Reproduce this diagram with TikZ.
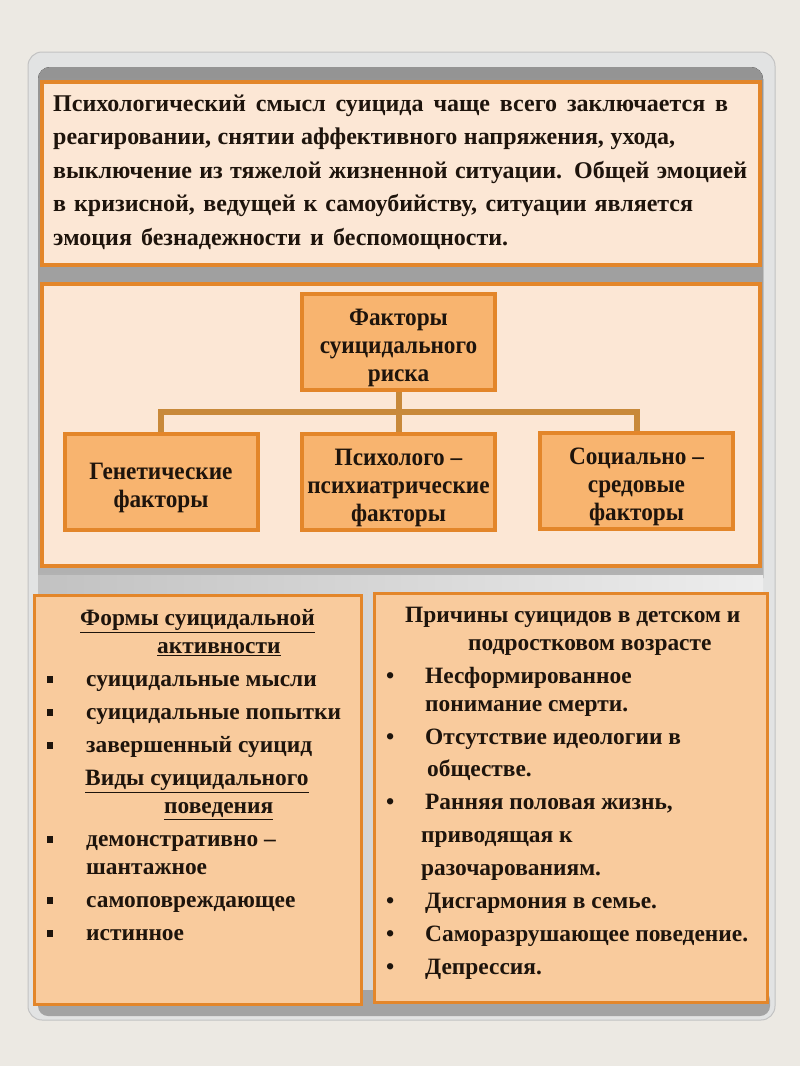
\documentclass[tikz,border=0pt]{standalone}
\usepackage{fontspec}
\setmainfont{Liberation Serif}
\newfontfamily\narrowfont[FakeStretch=0.93,Ligatures=TeX]{Liberation Serif}
\usetikzlibrary{positioning}
\definecolor{pagebg}{HTML}{ECE9E3}
\definecolor{framefill}{HTML}{E2E3E3}
\definecolor{framedraw}{HTML}{C2C2C2}
\definecolor{brd}{HTML}{E3862A}
\definecolor{peach}{HTML}{FCE7D5}
\definecolor{facfill}{HTML}{F8B46F}
\definecolor{lstfill}{HTML}{F9CB9D}
\definecolor{linkc}{HTML}{C8893A}
\definecolor{ink}{HTML}{1E140C}
\newcommand{\sqb}{\makebox[39pt][l]{\rule[3pt]{6pt}{7pt}}}
\newcommand{\rdb}{\makebox[39pt][l]{•}}
\newcommand{\tp}{\rule{0pt}{28pt}}

\begin{document}
\begin{tikzpicture}[x=1pt,y=-1pt]
\tikzset{
  frm/.style={rectangle,draw=brd,line width=4pt,fill=peach,inner sep=0pt},
  fac/.style={rectangle,draw=brd,line width=4pt,fill=facfill,minimum width=193pt,minimum height=96pt,align=center,inner sep=0pt,text=ink,font=\narrowfont\bfseries\fontsize{25}{28}\selectfont},
  lst/.style={rectangle,draw=brd,line width=3pt,fill=lstfill,inner sep=0pt},
  txt/.style={anchor=north west,inner sep=0pt,align=left,text=ink,font=\bfseries\fontsize{23.4}{28}\selectfont},
  ln/.style={draw=linkc,line width=6pt}
}
\useasboundingbox[fill=pagebg] (0,0) rectangle (800,1066);
% slide frame
\draw[fill=framefill,draw=framedraw,line width=1pt,rounded corners=14pt] (28,52) rectangle (775,1020);
\fill[top color=black!42,bottom color=black!30,rounded corners=12pt] (38,67) rectangle (763,590);
\fill[left color=black!24,right color=black!7] (38,575) rectangle (763,1000);
\fill[black!36,rounded corners=10pt] (38,990) rectangle (770,1016);
% top text
\node[frm,minimum width=718pt,minimum height=183pt] (intro) at (401,173.5) {};
\node[txt,font=\bfseries\fontsize{24}{33.5}\selectfont] (introtxt) at (53,94.5) {%
\makebox[675pt][s]{Психологический смысл суицида чаще всего заключается в}\\
\makebox[622pt][s]{реагировании, снятии аффективного напряжения, ухода,}\\
\makebox[694pt][s]{выключение из тяжелой жизненной ситуации. Общей эмоцией}\\
\makebox[640pt][s]{в кризисной, ведущей к самоубийству, ситуации является}\\
\makebox[455pt][s]{эмоция безнадежности и беспомощности.}};
% factors
\node[frm,minimum width=718pt,minimum height=282pt] (factors) at (401,425) {};
\node[fac] (risk) at (398.5,342) {\tp Факторы\\суицидального\\риска};
\node[fac] (gen) at (161,482) {\tp Генетические\\факторы};
\node[fac] (psy) at (398.5,482) {\tp Психолого –\\психиатрические\\факторы};
\node[fac] (soc) at (636.5,481) {\tp Социально –\\средовые\\факторы};
\draw[ln] (risk.south) -- ++(0,20) -| (gen.north);
\draw[ln] (risk.south) -- (psy.north);
\draw[ln] (risk.south) -- ++(0,20) -| (soc.north);
% forms and causes
\node[lst,minimum width=327pt,minimum height=409pt] (forms) at (198,800) {};
\node[lst,minimum width=393pt,minimum height=409pt] (causes) at (571,798) {};
\node[txt] (formstxt) at (47,609) {%
\hspace*{33pt}\underline{Формы суицидальной}\\
\hspace*{110pt}\underline{активности}\\[5pt]
\sqb суицидальные мысли\\[5pt]
\sqb суицидальные попытки\\[5pt]
\sqb завершенный суицид\\[5pt]
\hspace*{38pt}\underline{Виды суицидального}\\
\hspace*{117pt}\underline{поведения}\\[5pt]
\sqb демонстративно –\\
\hspace*{39pt}шантажное\\[5pt]
\sqb самоповреждающее\\[5pt]
\sqb истинное};
\node[txt] (causestxt) at (386,607) {%
\hspace*{19pt}Причины суицидов в детском и\\
\hspace*{82pt}подростковом возрасте\\[5pt]
\rdb Несформированное\\
\hspace*{39pt}понимание смерти.\\[5pt]
\rdb Отсутствие идеологии в\\[4pt]
\hspace*{41pt}обществе.\\[5pt]
\rdb Ранняя половая жизнь,\\[5pt]
\hspace*{35pt}приводящая к\\[5pt]
\hspace*{35pt}разочарованиям.\\[5pt]
\rdb Дисгармония в семье.\\[5pt]
\rdb Саморазрушающее поведение.\\[5pt]
\rdb Депрессия.};
\end{tikzpicture}
\end{document}
